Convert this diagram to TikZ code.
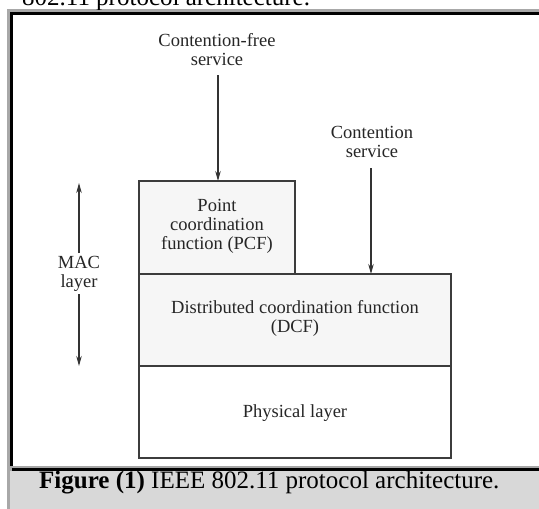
\documentclass[tikz,border=0pt]{standalone}
\usepackage{fontspec}
\setmainfont{Liberation Serif}
\usetikzlibrary{arrows.meta}
\definecolor{capbg}{RGB}{216,216,216}
\definecolor{frgray}{RGB}{168,168,168}
\definecolor{boxline}{RGB}{60,60,60}
\definecolor{boxfill}{RGB}{246,246,246}
\begin{document}
\begin{tikzpicture}[x=1pt,y=-1pt,
  layerbox/.style={draw=boxline,line width=1.4pt},
  lbl/.style={inner sep=0pt,align=center,font=\fontsize{18.5}{19}\selectfont,text=black!85},
  svcarrow/.style={draw=black!80,line width=1.1pt,-{Stealth[length=10pt,width=5.5pt]}}]
\useasboundingbox (0,0) rectangle (539,509);
% frame
\fill[white] (0,0) rectangle (539,509);
\fill[frgray] (7,9) rectangle (545,512);
\fill[black] (10,12) rectangle (545,468);
\fill[white] (13,15) rectangle (545,466);
\fill[gray!70] (10,466) rectangle (545,468);
\fill[black] (12,468) rectangle (545,471);
\fill[capbg] (10,471) rectangle (545,512);
% top cut-off text
\begin{scope}
\clip (0,0) rectangle (539,9);
\node[anchor=base west,inner sep=0pt,font=\fontsize{25}{29}\selectfont] (toptext) at (22,5) {802.11 protocol architecture.};
\end{scope}
% caption
\node[anchor=base west,inner sep=0pt,font=\fontsize{25}{29}\selectfont] (caption) at (39,488) {\textbf{Figure (1)} IEEE 802.11 protocol architecture.};
% boxes
\path[layerbox,fill=boxfill] (139,181) rectangle (295,274);
\path[layerbox,fill=boxfill] (139,274) rectangle (451,366);
\path[layerbox,fill=white] (139,366) rectangle (451,458);
\node[lbl] (pcf) at (217,226) {Point\\coordination\\function (PCF)};
\node[lbl] (dcf) at (295,318) {Distributed coordination function\\(DCF)};
\node[lbl] (phy) at (295,413) {Physical layer};
\coordinate (pcftop) at (218,181);
\coordinate (dcftop) at (371,274);
\node[lbl] (cfs) at (217,50) {Contention-free\\service};
\node[lbl] (cs) at (372,142) {Contention\\service};
\node[lbl] (mac) at (79,274) {MAC\\layer};
\coordinate (cfsarr) at (218,75);
\coordinate (csarr) at (371,168);
\coordinate (macup) at (79,183);
\coordinate (macdown) at (79,366);
\coordinate (mac1) at (79,253);
\coordinate (mac2) at (79,294);
\draw[svcarrow] (cfsarr) -- (pcftop);
\draw[svcarrow] (csarr) -- (dcftop);
\draw[svcarrow] (mac1) -- (macup);
\draw[svcarrow] (mac2) -- (macdown);
\end{tikzpicture}
\end{document}
